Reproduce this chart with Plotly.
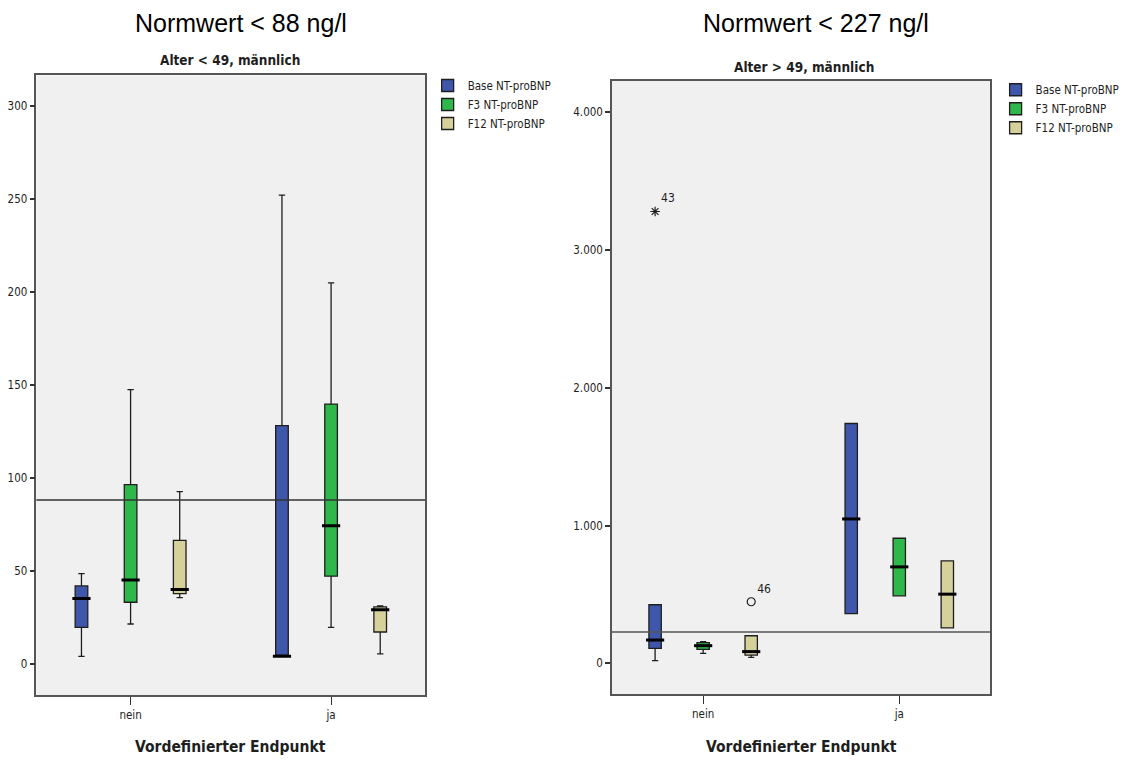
import plotly.graph_objects as go

# ---- data -------------------------------------------------------------
categories = ["nein", "ja"]
series_names = ["Base NT-proBNP", "F3 NT-proBNP", "F12 NT-proBNP"]

# Alter < 49, männlich  (each row: one series, values for nein / ja)
young_low = [[3.9, 4.0], [21.3, 19.5], [35.5, 5.2]]
young_q1 = [[19.5, 4.0], [33.0, 47.0], [37.6, 17.0]]
young_median = [[35.0, 4.0], [45.0, 74.2], [39.8, 29.0]]
young_q3 = [[41.8, 128.0], [96.2, 139.6], [66.3, 30.5]]
young_high = [[48.4, 252.0], [147.3, 204.8], [92.5, 31.0]]

# Alter > 49, männlich
old_low = [[20, 360], [72, 490], [43, 258]]
old_q1 = [[109, 360], [101, 490], [60, 258]]
old_median = [[169, 1048], [128, 700], [85, 502]]
old_q3 = [[425, 1741], [150, 908], [200, 744]]
old_high = [[425, 1741], [157, 908], [200, 744]]

# single cases outside the whiskers (Alter > 49)
old_outlier_series = [0, 2]
old_outlier_category = [0, 0]
old_outlier_values = [3280, 447]
old_outlier_labels = ["43", "46"]
old_outlier_kind = ["extrem", "ausreisser"]

norm_young = 88   # ng/l
norm_old = 227    # ng/l

# ---- styling ----------------------------------------------------------
series_colors = ["#3F57AB", "#2EB84B", "#D6D09B"]
kind_symbol = {"extrem": "asterisk-open", "ausreisser": "circle-open"}
group_offsets = [-0.245, 0.0, 0.245]
box_width = 0.063

NARROW = "Liberation Sans Narrow, Arial Narrow, DejaVu Sans Condensed, sans-serif"
PLAIN = "Liberation Sans, Arial, sans-serif"
INK = "#1e1e1e"

fig = go.Figure()


def positions(s):
    return [i + group_offsets[s] for i in range(len(categories))]


def add_panel(xa, ya, legend, low, q1, med, q3, high):
    for s, name in enumerate(series_names):
        fig.add_trace(go.Box(
            x=positions(s), q1=q1[s], median=med[s], q3=q3[s],
            lowerfence=low[s], upperfence=high[s],
            name=name, fillcolor=series_colors[s],
            line=dict(color=INK, width=1.3), width=box_width,
            whiskerwidth=0.5, boxpoints=False, hoverinfo="skip",
            xaxis=xa, yaxis=ya, legend=legend,
        ))
    # heavy median bars
    for s in range(len(series_names)):
        fig.add_trace(go.Scatter(
            x=positions(s), y=med[s], mode="markers",
            marker=dict(symbol="line-ew", size=13,
                        line=dict(width=3, color="black")),
            showlegend=False, hoverinfo="skip", xaxis=xa, yaxis=ya,
        ))


add_panel("x", "y", "legend", young_low, young_q1, young_median, young_q3, young_high)
add_panel("x2", "y2", "legend2", old_low, old_q1, old_median, old_q3, old_high)

for s, c, v, lab, kind in zip(old_outlier_series, old_outlier_category,
                              old_outlier_values, old_outlier_labels, old_outlier_kind):
    fig.add_trace(go.Scatter(
        x=[c + group_offsets[s]], y=[v], mode="markers+text",
        text=[lab], textposition="top right",
        textfont=dict(family=NARROW, size=12, color=INK),
        marker=dict(symbol=kind_symbol[kind], size=8,
                    line=dict(width=1.2, color=INK), color=INK),
        showlegend=False, hoverinfo="skip", xaxis="x2", yaxis="y2",
    ))

# reference lines (upper normal value)
fig.add_shape(type="line", xref="x domain", x0=0, x1=1, yref="y",
              y0=norm_young, y1=norm_young, line=dict(color="#333333", width=1.5))
fig.add_shape(type="line", xref="x2 domain", x0=0, x1=1, yref="y2",
              y0=norm_old, y1=norm_old, line=dict(color="#555555", width=1.5))

axis_common = dict(showline=True, mirror=True, linecolor="#555555", linewidth=1.5,
                   showgrid=False, zeroline=False, ticks="outside",
                   tickcolor="#333333", tickfont=dict(family=NARROW, size=11.5, color=INK))

fig.update_layout(
    width=1125, height=760,
    margin=dict(l=0, r=0, t=0, b=0),
    paper_bgcolor="white", plot_bgcolor="#F0F0F0",
    separators=",.",
    showlegend=True,
    xaxis=dict(domain=[0.0329, 0.3849], range=[-0.47, 1.47], anchor="y",
               tickvals=list(range(len(categories))), ticktext=categories,
               ticklen=8, tickwidth=1, **axis_common),
    yaxis=dict(domain=[0.0855, 0.9007], range=[-16.9, 316.3], anchor="x",
               tick0=0, dtick=50, ticklen=5, tickwidth=2, **axis_common),
    xaxis2=dict(domain=[0.5538, 0.896], range=[-0.465, 1.463], anchor="y2",
                tickvals=list(range(len(categories))), ticktext=categories,
                ticklen=8, tickwidth=1, **axis_common),
    yaxis2=dict(domain=[0.0868, 0.8934], range=[-223, 4227], anchor="x2",
                tick0=0, dtick=1000, tickformat=",", ticklen=5, tickwidth=2,
                **axis_common),
    legend=dict(x=0.387, y=0.9066, xanchor="left", yanchor="top",
                font=dict(family=NARROW, size=11.5, color=INK),
                bgcolor="rgba(0,0,0,0)", tracegroupgap=0),
    legend2=dict(x=0.901, y=0.901, xanchor="left", yanchor="top",
                 font=dict(family=NARROW, size=11.5, color=INK),
                 bgcolor="rgba(0,0,0,0)", tracegroupgap=0),
)

annotations = [
    dict(text=f"Normwert < {norm_young} ng/l", x=0.2178, y=0.970,
         font=dict(family=PLAIN, size=25, color="black")),
    dict(text=f"Normwert < {norm_old} ng/l", x=0.7387, y=0.970,
         font=dict(family=PLAIN, size=25, color="black")),
    dict(text="<b>Alter < 49, männlich</b>", x=0.208, y=0.921,
         font=dict(family=NARROW, size=13.5, color=INK)),
    dict(text="<b>Alter > 49, männlich</b>", x=0.728, y=0.912,
         font=dict(family=NARROW, size=13.5, color=INK)),
    dict(text="<b>Vordefinierter Endpunkt</b>", x=0.2089, y=0.017,
         font=dict(family=NARROW, size=15.5, color=INK)),
    dict(text="<b>Vordefinierter Endpunkt</b>", x=0.7249, y=0.017,
         font=dict(family=NARROW, size=15.5, color=INK)),
]
for a in annotations:
    fig.add_annotation(xref="paper", yref="paper", showarrow=False,
                       xanchor="center", yanchor="middle", **a)

fig.write_html("out.html")
